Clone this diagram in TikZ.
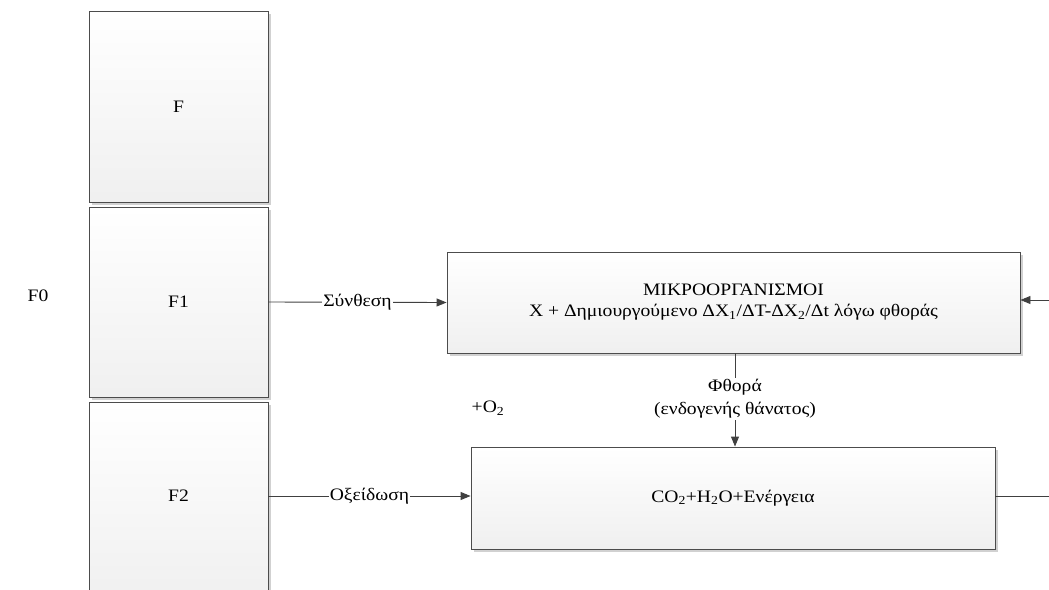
\documentclass[tikz,border=0pt]{standalone}
\usepackage{fontspec}
\setmainfont{Liberation Serif}[FakeStretch=1.12]
\usetikzlibrary{arrows.meta,shadows}
\begin{document}
\begin{tikzpicture}[x=1pt,y=-1pt,
  box/.style={draw=black!70, line width=0.9pt, top color=white, bottom color=black!6,
    general shadow={fill=black!18, shadow xshift=2.5pt, shadow yshift=-2.5pt},
    inner sep=0pt, font=\fontsize{17.5}{21}\selectfont, align=center},
  conn/.style={draw=black!75, line width=0.9pt},
  arr/.style={conn, -{Triangle[length=10pt,width=8pt]}},
  lbl/.style={fill=white, inner sep=1pt, font=\fontsize{17.5}{23}\selectfont, align=center},
  txt/.style={font=\fontsize{17.5}{21}\selectfont, inner sep=0pt}]
\useasboundingbox (0,0) rectangle (1049,589);
\clip (0,0) rectangle (1049,589);
\node[box, minimum width=179pt, minimum height=191pt] (F) at (178.5,106.5) {F};
\node[box, minimum width=179pt, minimum height=190pt] (F1) at (178.5,302) {F1};
\node[box, minimum width=179pt, minimum height=200pt] (F2) at (178.5,502) {};
\node[txt] (F2t) at (178.5,496) {F2};
\node[txt] (F0) at (38,296) {F0};
\node[box, minimum width=573pt, minimum height=101pt] (M) at (733.5,302.5)
  {ΜΙΚΡΟΟΡΓΑΝΙΣΜΟΙ\\X + Δημιουργούμενο ΔX\textsubscript{1}/ΔT-ΔX\textsubscript{2}/Δt λόγω φθοράς};
\node[box, minimum width=524pt, minimum height=102pt] (C) at (733,498)
  {CO\textsubscript{2}+H\textsubscript{2}O+Ενέργεια};
\node[txt] (O2) at (488,408) {+O\textsubscript{2}};
\coordinate (rin) at (1049,300);
\coordinate (rout) at (1049,496);
\draw[arr] (F1.east) -- node[lbl] {Σύνθεση} (M.west);
\draw[arr] (F1.east |- F2t) -- node[lbl] {Οξείδωση} (C.west |- F2t);
\draw[arr] (rin) -- (M.east |- rin);
\draw[conn] (C.east |- rout) -- (rout);
\draw[arr] (M.south -| 735,0) -- node[lbl, yshift=1pt] {Φθορά\\(ενδογενής θάνατος)} (C.north -| 735,0);
\end{tikzpicture}
\end{document}
